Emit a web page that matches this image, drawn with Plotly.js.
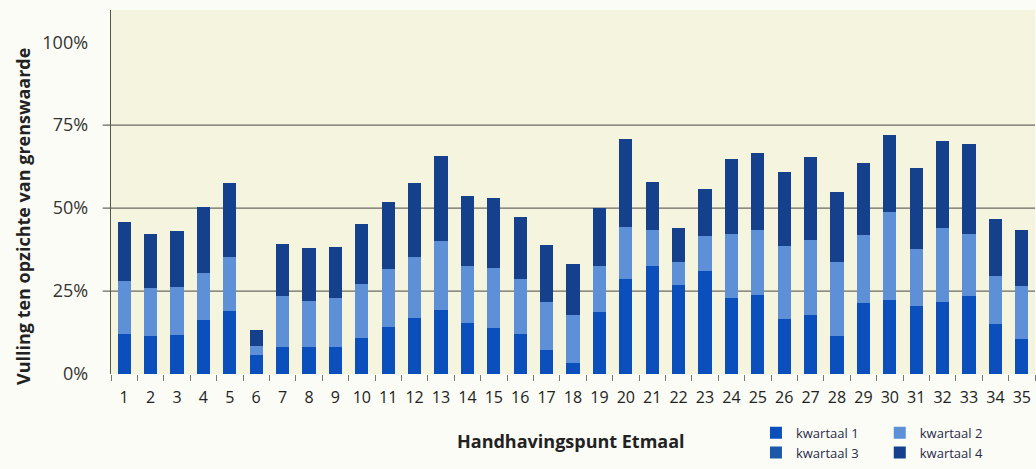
<!DOCTYPE html>
<html>
<head>
<meta charset="utf-8">
<script src="https://cdn.plot.ly/plotly-3.0.1.min.js"></script>
<style>
  html, body { margin: 0; padding: 0; background: #fbfcf6; }
  #chart { width: 1036px; height: 469px; }
</style>
</head>
<body>
<div id="chart"></div>
<script>
const categories = ["1","2","3","4","5","6","7","8","9","10","11","12","13","14","15","16","17","18","19","20","21","22","23","24","25","26","27","28","29","30","31","32","33","34","35"];
const kwartaal1 = [0.120,0.114,0.119,0.164,0.190,0.058,0.080,0.080,0.080,0.109,0.141,0.168,0.192,0.153,0.138,0.120,0.073,0.033,0.187,0.287,0.324,0.269,0.309,0.229,0.238,0.166,0.179,0.116,0.213,0.223,0.205,0.218,0.234,0.151,0.107];
const kwartaal2 = [0.160,0.145,0.142,0.141,0.162,0.026,0.156,0.140,0.149,0.162,0.174,0.184,0.209,0.173,0.180,0.167,0.145,0.144,0.137,0.157,0.109,0.068,0.107,0.194,0.195,0.219,0.225,0.221,0.205,0.264,0.172,0.221,0.189,0.144,0.159];
const kwartaal3 = [0,0,0,0,0,0,0,0,0,0,0,0,0,0,0,0,0,0,0,0,0,0,0,0,0,0,0,0,0,0,0,0,0,0,0];
const kwartaal4 = [0.177,0.162,0.171,0.197,0.224,0.050,0.155,0.159,0.154,0.181,0.202,0.224,0.255,0.210,0.211,0.187,0.172,0.154,0.175,0.265,0.146,0.103,0.143,0.225,0.233,0.225,0.250,0.211,0.217,0.234,0.244,0.264,0.270,0.173,0.169];
const seriesNames = ["kwartaal 1","kwartaal 2","kwartaal 3","kwartaal 4"];
const yTickVals = [0, 0.25, 0.5, 0.75, 1];
const yTickText = ["0%","25%","50%","75%","100%"];
const gridVals = [0.25, 0.5, 0.75];

const colors = ["#0b4fbc", "#5d90d6", "#1c58a8", "#15408c"];
const seriesData = [kwartaal1, kwartaal2, kwartaal3, kwartaal4];
const legendFor = ["legend", "legend2", "legend", "legend2"];

const traces = seriesData.map((vals, i) => ({
  type: "bar",
  name: seriesNames[i],
  x: categories,
  y: vals,
  marker: { color: colors[i], line: { width: 0 } },
  legend: legendFor[i],
  legendgroup: "g" + i,
  hoverinfo: "skip"
}));

const font = "'Open Sans', 'Liberation Sans', sans-serif";

const shapes = gridVals.map(v => ({
  type: "line", xref: "paper", yref: "y",
  x0: -0.009, x1: 1, y0: v, y1: v,
  line: { color: "#6a6a62", width: 1.3 },
  layer: "below"
}));

const legendCommon = {
  orientation: "v",
  traceorder: "normal",
  bgcolor: "rgba(0,0,0,0)",
  font: { family: font, size: 13, color: "#2a2a4a" },
  xanchor: "left", yanchor: "top",
  tracegroupgap: 10,
  itemwidth: 30
};

const layout = {
  width: 1036, height: 469,
  margin: { l: 111, r: 1, t: 10, b: 86 },
  paper_bgcolor: "#fbfcf6",
  plot_bgcolor: "#f5f4df",
  barmode: "stack",
  bargap: 0.5,
  showlegend: true,
  font: { family: font, color: "#333" },
  xaxis: {
    type: "category",
    tickangle: 0,
    tickson: "boundaries",
    ticks: "outside",
    ticklen: 6,
    tickcolor: "#777",
    tickwidth: 1,
    tickfont: { family: font, size: 16, color: "#222" },
    ticklabelstandoff: 12,
    showgrid: false,
    showline: false,
    zeroline: false,
    automargin: false,
    fixedrange: true
  },
  yaxis: {
    range: [0, 1.097],
    tickvals: yTickVals,
    ticktext: yTickText,
    tickfont: { family: font, size: 18, color: "#333" },
    ticks: "outside",
    ticklen: 18,
    tickcolor: "rgba(0,0,0,0)",
    showgrid: false,
    zeroline: false,
    showline: true,
    linecolor: "#55554f",
    linewidth: 1.3,
    automargin: false,
    fixedrange: true
  },
  shapes: shapes,
  annotations: [
    {
      text: "<b>Vulling ten opzichte van grenswaarde</b>",
      xref: "paper", yref: "paper",
      x: -0.096, y: 0.432,
      xanchor: "center", yanchor: "middle",
      textangle: -90, showarrow: false,
      font: { family: font, size: 18, color: "#222" }
    },
    {
      text: "<b>Handhavingspunt Etmaal</b>",
      xref: "paper", yref: "paper",
      x: 0.498, y: -0.185,
      xanchor: "center", yanchor: "middle",
      showarrow: false,
      font: { family: font, size: 18, color: "#222" }
    }
  ],
  legend: Object.assign({}, legendCommon, { x: 0.698, y: -0.12 }),
  legend2: Object.assign({}, legendCommon, { x: 0.832, y: -0.12 })
};

Plotly.newPlot("chart", traces, layout, { displayModeBar: false, staticPlot: true });
</script>
</body>
</html>
